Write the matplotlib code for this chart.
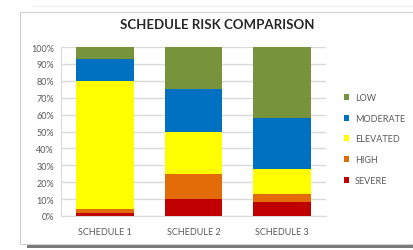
import matplotlib
matplotlib.use("Agg")
import matplotlib.pyplot as plt
from matplotlib.patches import Rectangle, Patch
import numpy as np

categories = ["SCHEDULE 1", "SCHEDULE 2", "SCHEDULE 3"]
series_names = ["SEVERE", "HIGH", "ELEVATED", "MODERATE", "LOW"]
severe = [2, 10, 8]
high = [2, 15, 5]
elevated = [76, 25, 15]
moderate = [13, 25, 30]
low = [7, 25, 42]
colors = ["#C00000", "#E36C09", "#FFFF00", "#0070C0", "#77933C"]
yticks = [0, 10, 20, 30, 40, 50, 60, 70, 80, 90, 100]
title = "SCHEDULE RISK COMPARISON"

plt.rcParams['font.family'] = ['Lato', 'DejaVu Sans']

W, H = 413, 251
fig = plt.figure(figsize=(W / 100, H / 100), dpi=100)
fig.patch.set_facecolor("white")

# card shadow and card
fig.patches.append(Rectangle((27 / W, 1 - 249 / H), (W - 27) / W, 10 / H,
                             transform=fig.transFigure, facecolor="#7a7a7a",
                             edgecolor="none", zorder=0))
fig.patches.append(Rectangle((20 / W, 1 - 245 / H), (W - 20) / W, (245 - 13) / H,
                             transform=fig.transFigure, facecolor="white",
                             edgecolor="#d0d0d0", linewidth=0.8, zorder=1))
fig.lines.append(plt.Line2D([33 / W, 1], [1 - 7 / H, 1 - 7 / H],
                            transform=fig.transFigure, color="#eeeeee",
                            linewidth=0.8, zorder=1))

ax = fig.add_axes([61 / W, 1 - 217 / H, (326 - 61) / W, (217 - 48) / H])
ax.set_zorder(2)
ax.patch.set_alpha(0)

x = np.arange(len(categories))
series = [severe, high, elevated, moderate, low]
bottom = np.zeros(len(categories))
handles = []
for name, vals, c in zip(series_names, series, colors):
    ax.bar(x, vals, width=0.65, bottom=bottom, color=c, edgecolor="none", zorder=3)
    bottom += np.array(vals)
    handles.append(Patch(facecolor=c, edgecolor="none", label=name))

ax.set_xlim(-0.5, 2.5)
ax.set_ylim(0, 100)
ax.set_yticks(yticks)
ax.set_yticklabels([f"{v}%" for v in yticks])
ax.set_xticks(x)
ax.set_xticklabels(categories)
ax.yaxis.grid(True, color="#d9d9d9", linewidth=1.0, zorder=0)
ax.set_axisbelow(True)
for s in ["top", "right"]:
    ax.spines[s].set_visible(False)
ax.spines["left"].set_color("#d9d9d9")
ax.spines["bottom"].set_color("#d9d9d9")
ax.tick_params(axis="both", length=0, colors="#595959", labelsize=6.5)
ax.tick_params(axis="y", pad=5)
ax.tick_params(axis="x", pad=8)

fig.text(217 / W, 1 - 25 / H, title, ha="center", va="center",
         fontsize=9.5, fontweight="bold", color="#262626")

leg = fig.legend(handles=handles[::-1], loc="center left",
                 bbox_to_anchor=(339 / W, 1 - 140 / H), frameon=False,
                 fontsize=6.5, handlelength=0.65, handleheight=0.65,
                 handletextpad=0.6, labelspacing=1.3, borderpad=0)
for t in leg.get_texts():
    t.set_color("#595959")

fig.savefig("out.png", dpi=100, facecolor="white")
